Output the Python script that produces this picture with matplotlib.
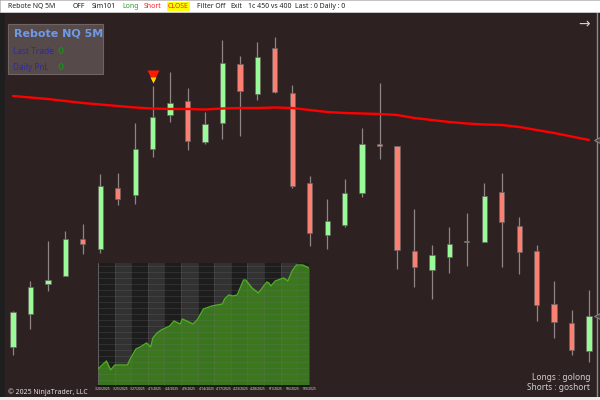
import matplotlib
matplotlib.use("Agg")
import matplotlib.pyplot as plt
import numpy as np
from matplotlib.patches import Rectangle

plt.rcParams['font.family'] = ['Noto Sans', 'DejaVu Sans']

# ---------------- data ----------------
opens  = [21326.5, 21343.0, 21358.0, 21362.0, 21380.5, 21375.5, 21406.0, 21402.5, 21425.5, 21442.5,
          21449.5, 21429.0, 21438.5, 21468.0, 21453.0, 21476.0, 21453.5, 21408.5, 21382.5, 21387.5,
          21403.5, 21428.0, 21427.0, 21374.5, 21365.0, 21371.5, 21379.0, 21379.0, 21404.0, 21387.0,
          21374.5, 21348.0, 21338.5, 21324.5]
highs  = [21344.5, 21359.5, 21379.5, 21384.5, 21388.0, 21413.0, 21413.5, 21438.5, 21457.0, 21464.0,
          21456.0, 21444.0, 21480.0, 21472.0, 21479.0, 21481.5, 21457.5, 21412.0, 21400.5, 21410.5,
          21436.0, 21458.5, 21427.0, 21395.5, 21377.5, 21386.5, 21393.5, 21408.5, 21413.5, 21391.5,
          21377.5, 21359.5, 21345.0, 21355.0]
lows   = [21322.5, 21335.5, 21354.5, 21362.0, 21373.0, 21373.5, 21397.5, 21398.0, 21421.5, 21439.0,
          21425.0, 21428.0, 21430.5, 21432.0, 21450.0, 21453.5, 21406.0, 21377.0, 21375.5, 21386.5,
          21401.5, 21420.5, 21365.5, 21356.5, 21350.5, 21363.5, 21367.0, 21379.0, 21366.5, 21363.0,
          21339.5, 21331.0, 21322.5, 21319.0]
closes = [21344.0, 21356.5, 21360.0, 21380.5, 21378.0, 21407.0, 21400.5, 21425.5, 21441.5, 21448.5,
          21429.5, 21438.0, 21468.5, 21454.5, 21471.5, 21454.0, 21407.0, 21383.5, 21389.5, 21403.5,
          21428.0, 21427.0, 21375.0, 21366.5, 21372.5, 21378.0, 21379.5, 21402.0, 21389.0, 21374.0,
          21347.5, 21339.0, 21325.0, 21342.0]
ma_line = [21452.0, 21451.25, 21450.5, 21449.5, 21448.5, 21447.75, 21447.0, 21446.25, 21445.75, 21445.5,
           21445.5, 21445.25, 21445.75, 21446.0, 21446.0, 21446.25, 21446.0, 21445.0, 21444.0, 21443.5,
           21443.25, 21443.0, 21442.5, 21441.0, 21440.0, 21439.0, 21438.25, 21437.75, 21437.5, 21436.5,
           21435.0, 21433.5, 21431.75, 21430.0]
signal_bar = 8
signal_price = 21462.0

trade_no = [0, 4, 6, 8, 14, 15, 18, 20, 23, 25, 26, 28, 30, 34, 36, 37, 39, 40, 45, 47, 50, 54, 59,
            60, 62, 64, 66, 69, 70, 73, 76, 80, 81, 82, 84, 88, 90, 92, 94, 97, 100]
equity = [850, 1250, 800, 1050, 1050, 1300, 1850, 1950, 2150, 1950, 2400, 2650, 2800, 3000, 3250,
          3200, 3100, 3350, 3100, 3300, 3850, 4000, 4100, 4350, 4550, 4500, 4550, 5300, 5300, 4900,
          4650, 5200, 5150, 5000, 5250, 5400, 5250, 5750, 6050, 6050, 5900]
eq_dates = ["3/20/2025", "3/25/2025", "3/27/2025", "4/1/2025", "4/4/2025", "4/9/2025", "4/14/2025",
            "4/17/2025", "4/23/2025", "4/28/2025", "5/1/2025", "5/6/2025", "5/9/2025"]

toolbar_items = [("Rebote NQ 5M", 8, "#222222"), ("OFF", 73, "#222222"), ("Sim101", 92, "#222222"),
                 ("Long", 122, "#2e9a2e"), ("Short", 144, "#ff2020"), ("CLOSE", 168, "#ff2020"),
                 ("Filter Off", 197, "#222222"), ("Exit", 230, "#222222"),
                 ("1c 450 vs 400", 248, "#222222"), ("Last : 0 Daily : 0", 295, "#222222")]

# ---------------- figure ----------------
W, H = 600, 400
BG = "#2e2122"
fig = plt.figure(figsize=(6, 4), dpi=100, facecolor=BG)

def px_rect(x0, y0, x1, y1):
    return [x0 / W, 1 - y1 / H, (x1 - x0) / W, (y1 - y0) / H]

def frect(x0, y0, x1, y1, **kw):
    r = Rectangle((x0 / W, 1 - y1 / H), (x1 - x0) / W, (y1 - y0) / H, transform=fig.transFigure, **kw)
    fig.patches.append(r)

# chrome
frect(0, 0, 5, 400, facecolor="#1e1e1e", edgecolor="none")
frect(0, 396.5, 600, 400, facecolor="#ececec", edgecolor="none")
frect(0, 0, 600, 11.5, facecolor="#ffffff", edgecolor="#cfcfcf", linewidth=0.6)

for label, xp, col in toolbar_items:
    kw = {}
    if label == "CLOSE":
        kw["bbox"] = dict(facecolor="#ffff00", edgecolor="none", pad=0.8)
    fig.text(xp / W, 1 - 6.5 / H, label, fontsize=5, color=col, va="center", ha="left", **kw)

# ---------------- main price axes ----------------
ax = fig.add_axes(px_rect(5, 12, 597, 396.5))
ax.set_facecolor("none")
n = len(opens)
idx = np.arange(n)
step = (589 - 13) / (n - 1)
ax.set_xlim(-(13 - 5) / step, (n - 1) + (597 - 589) / step)
ax.set_ylim(21301.75, 21494.0)

o = np.array(opens); c = np.array(closes); h = np.array(highs); l = np.array(lows)
up = c >= o
ax.vlines(idx, l, h, color="#8e8686", linewidth=0.9, zorder=2)
body_h = np.where(np.abs(c - o) < 0.75, 0.75 * np.sign(c - o + 1e-9), c - o)
ax.bar(idx, body_h, bottom=o, width=0.3, color=np.where(up, "#98fb98", "#fa8072"),
       edgecolor="#6a6464", linewidth=0.5, zorder=3)
ax.plot(idx, ma_line, color="#ff0000", linewidth=1.7, zorder=4, solid_capstyle="round")

ax.plot([signal_bar], [signal_price], marker="v", markersize=8.2, color="#ff1a00", zorder=5, mec="none")
ax.plot([signal_bar], [signal_price - 1.9], marker="v", markersize=4.0, color="#ffd400", zorder=6, mec="none")

xr = ax.get_xlim()[1]
ax.plot([xr, xr], [ma_line[-1], closes[-1]], linestyle="none", marker="<", markersize=5,
        mfc="#4a4444", mec="#8a8a8a", mew=0.7, clip_on=False, zorder=6)

for s in ["top", "left", "bottom"]:
    ax.spines[s].set_visible(False)
ax.spines["right"].set_color("#8a8a8a")
ax.spines["right"].set_linewidth(1.0)
ax.set_xticks([]); ax.set_yticks([])

# ---------------- info panel ----------------
frect(8, 24, 103, 74, facecolor="#564a4a", edgecolor="#6e6464", linewidth=0.8)
fig.text(14 / W, 1 - 34 / H, "Rebote NQ 5M", fontsize=8, fontweight="bold", color="#6f9ae8",
         va="center", family="DejaVu Sans")
fig.text(13 / W, 1 - 51 / H, "Last Trade", fontsize=6, color="#2a2ab0", va="center")
fig.text(58 / W, 1 - 51 / H, "0", fontsize=6.5, fontweight="bold", color="#1a8a1a", va="center",
         family="DejaVu Sans")
fig.text(13 / W, 1 - 67 / H, "Daily PnL", fontsize=6, color="#2a2ab0", va="center")
fig.text(58 / W, 1 - 67 / H, "0", fontsize=6.5, fontweight="bold", color="#1a8a1a", va="center",
         family="DejaVu Sans")

fig.text(584 / W, 1 - 25 / H, "\u2192", fontsize=10, color="#d0d0d0", va="center", ha="center")

# ---------------- equity inset ----------------
ax2 = fig.add_axes(px_rect(98, 263, 309, 386))
ax2.set_xlim(0, 100)
ax2.set_ylim(0, 6150)
band = 100 * 16.6 / 211
k = 0
x0 = 0.0
while x0 < 100:
    ax2.axvspan(x0, min(x0 + band, 100), color="#1d1d1d" if k % 2 == 0 else "#323232", zorder=0, lw=0)
    x0 += band
    k += 1
ax2.fill_between(trade_no, equity, 0, color="#3c7d1c", alpha=0.93, zorder=2, lw=0)
ax2.plot(trade_no, equity, color="#4fae25", linewidth=1.0, zorder=3)
ax2.set_yticks(np.arange(300, 6150, 300))
ax2.set_xticks(np.arange(band, 100, band))
ax2.grid(True, color="#7a7a7a", alpha=0.35, linewidth=0.4, zorder=4)
ax2.set_axisbelow(False)
ax2.tick_params(length=0, labelleft=False, labelbottom=False)
for s in ["top", "right"]:
    ax2.spines[s].set_visible(False)
ax2.spines["left"].set_color("#6a6a6a"); ax2.spines["left"].set_linewidth(0.6)
ax2.spines["bottom"].set_color("#0e0e0e"); ax2.spines["bottom"].set_linewidth(1.2)

for i, d in enumerate(eq_dates):
    xp = 100 + i * (207 / (len(eq_dates) - 1)) + 3
    fig.text(xp / W, 1 - 389.5 / H, d, fontsize=2.4, color="#d8d8d8", ha="center", va="center")

# ---------------- footer texts ----------------
fig.text(8 / W, 1 - 392 / H, "\u00a9 2025 NinjaTrader, LLC", fontsize=5, color="#e0e0e0", va="center")
fig.text(590 / W, 1 - 378 / H, "Longs : golong", fontsize=6, color="#d0d0d0", va="center", ha="right")
fig.text(590 / W, 1 - 387.5 / H, "Shorts : goshort", fontsize=6, color="#d0d0d0", va="center", ha="right")

fig.savefig("out.png", dpi=100, facecolor=BG)
